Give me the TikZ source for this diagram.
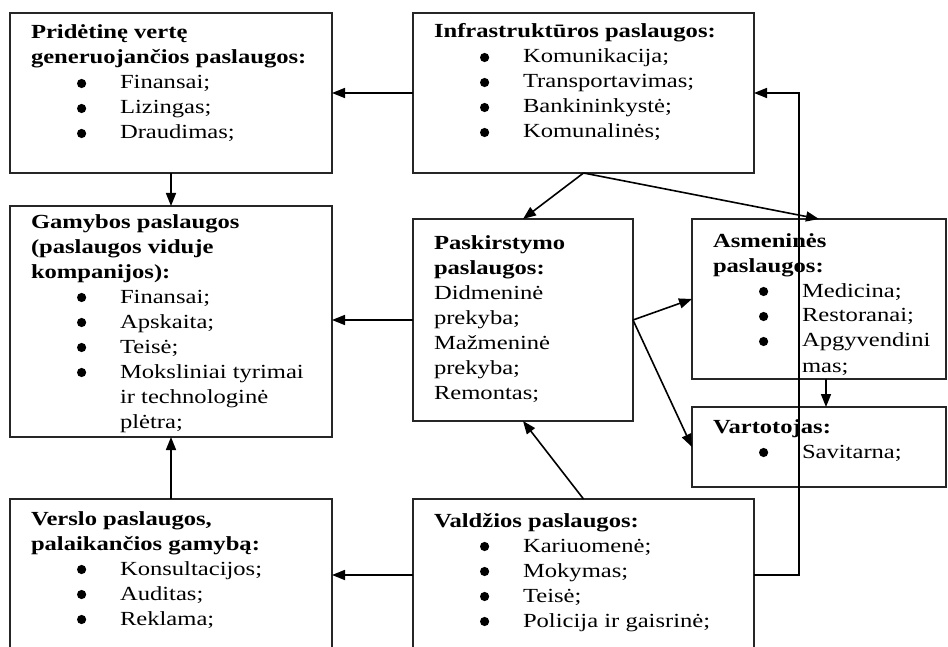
\documentclass[tikz,border=0pt]{standalone}
\usepackage{fontspec}
\setmainfont{Liberation Serif}[FakeStretch=1.23]
\usetikzlibrary{arrows.meta,positioning,calc}

% bullet line and continuation line inside a box
\newcommand{\bigdot}{\tikz[baseline=-5.5pt]\fill (0,0) circle [radius=4.6pt];}
\newcommand{\bul}[1]{\par\hspace*{46pt}\makebox[43pt][l]{\bigdot}#1}
\newcommand{\contline}[1]{\par\hspace*{89pt}#1}
% width, height, first baseline, text
\newcommand{\svctext}[4]{\parbox[c][#2][t]{#1}{\fontsize{20}{25}\selectfont
  \raggedright\leftskip=21pt\rule{0pt}{#3}#4}}

\begin{document}
\begin{tikzpicture}[x=1pt, y=-1pt,
  svc/.style={draw=black!85, line width=1.4pt, anchor=north west, inner sep=0pt, outer sep=0pt},
  conn/.style={-{Triangle[length=13pt, width=10pt]}, line width=1.6pt},
]
  \useasboundingbox (0,0) rectangle (948,647);
  \clip (0,0) rectangle (948,647);

  % Top row.
  \node[svc] (pride) at (10,13) {\svctext{322pt}{160pt}{26pt}{%
    \textbf{Pridėtinę vertę}\\\textbf{generuojančios paslaugos:}%
    \bul{Finansai;}\bul{Lizingas;}\bul{Draudimas;}}};
  \node[svc] (infra) at (413,13) {\svctext{341pt}{160pt}{25pt}{%
    \textbf{Infrastruktūros paslaugos:}%
    \bul{Komunikacija;}\bul{Transportavimas;}\bul{Bankininkystė;}\bul{Komunalinės;}}};

  % Middle row.
  \node[svc] (gamyb) at (10,206) {\svctext{322pt}{231pt}{22pt}{%
    \textbf{Gamybos paslaugos}\\\textbf{(paslaugos viduje}\\\textbf{kompanijos):}%
    \bul{Finansai;}\bul{Apskaita;}\bul{Teisė;}\bul{Moksliniai tyrimai}%
    \contline{ir technologinė}\contline{plėtra;}}};
  \node[svc] (pask) at (413,219) {\svctext{220pt}{202pt}{30pt}{%
    \textbf{Paskirstymo}\\\textbf{paslaugos:}\\Didmeninė\\prekyba;\\Mažmeninė\\prekyba;\\Remontas;}};
  \node[svc] (asmen) at (692,219) {\svctext{254pt}{160pt}{28pt}{%
    \textbf{Asmeninės}\\\textbf{paslaugos:}%
    \bul{Medicina;}\bul{Restoranai;}\bul{Apgyvendini}\contline{mas;}}};
  \node[svc] (vart) at (692,407) {\svctext{254pt}{80pt}{26pt}{%
    \textbf{Vartotojas:}\bul{Savitarna;}}};

  % Bottom row.
  \node[svc] (versl) at (10,499) {\svctext{322pt}{152pt}{26pt}{%
    \textbf{Verslo paslaugos,}\\\textbf{palaikančios gamybą:}%
    \bul{Konsultacijos;}\bul{Auditas;}\bul{Reklama;}}};
  \node[svc] (valdz) at (413,499) {\svctext{341pt}{152pt}{28pt}{%
    \textbf{Valdžios paslaugos:}%
    \bul{Kariuomenė;}\bul{Mokymas;}\bul{Teisė;}\bul{Policija ir gaisrinė;}}};

  % Connectors.
  \draw[conn] (infra.west) -- (pride.east);
  \draw[conn] (pride.south) -- (gamyb.north);
  \draw[conn] (pask.west) -- (pask.west -| gamyb.east);
  \draw[conn] (versl.north) -- (gamyb.south);
  \draw[conn] (valdz.west) -- (versl.east);
  \draw[conn] (valdz.east) -- ++(45,0) |- (infra.east);
  \draw[conn] (infra.south) -- (pask.north);
  \draw[conn] (infra.south) -- (asmen.north);
  \draw[conn] (pask.east) -- (asmen.west);
  \draw[conn] (pask.east) -- (vart.west);
  \draw[conn] ([xshift=7pt]asmen.south) -- ([xshift=7pt]vart.north);
  \draw[conn] (valdz.north) -- (pask.south);
\end{tikzpicture}
\end{document}
